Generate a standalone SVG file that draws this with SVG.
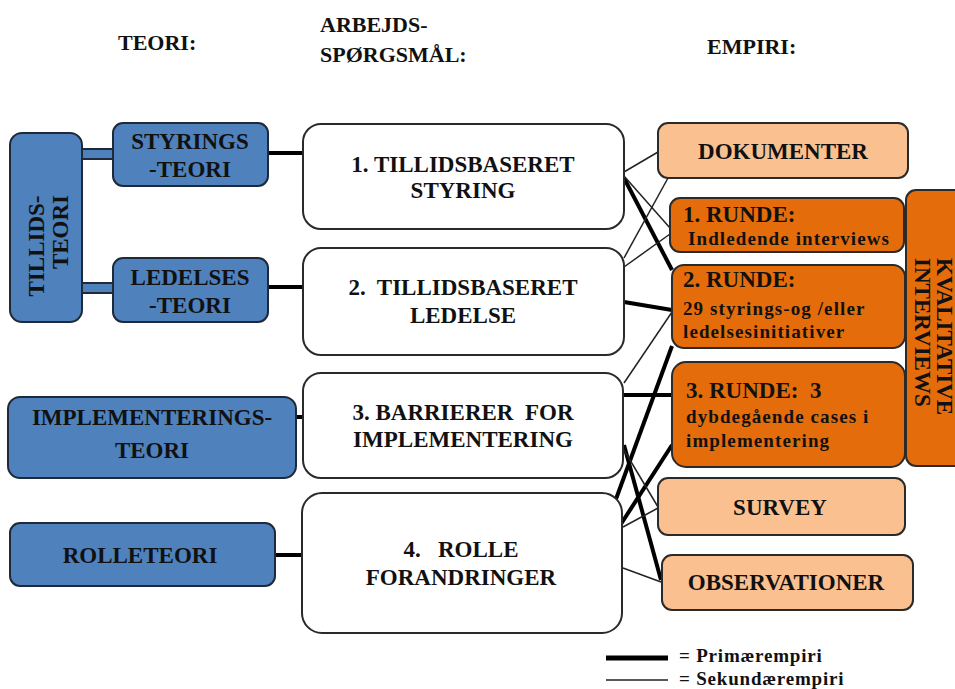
<svg xmlns="http://www.w3.org/2000/svg" width="955" height="689" viewBox="0 0 955 689" font-family="'Liberation Serif', 'DejaVu Serif', 'Times New Roman', serif">
  <style>
    text { font-family: "Liberation Serif", "DejaVu Serif", "Times New Roman", serif; font-weight: 700; fill: #111; }
    .head { font-size: 22px; }
    .lbl { font-size: 23px; }
    .mid { text-anchor: middle; }
    .small { font-size: 19px; letter-spacing: 1.1px; }
    .legend { font-size: 19px; letter-spacing: 0.8px; }
    .theory { fill: #4F81BD; stroke: #1e2a3a; stroke-width: 2; }
    .question { fill: #ffffff; stroke: #2a2a2a; stroke-width: 2; }
    .light { fill: #FAC090; stroke: #2a2a2a; stroke-width: 2; }
    .dark { fill: #E46C0A; stroke: #2a2a2a; stroke-width: 2; }
    .primary { stroke: #000; stroke-width: 4; fill: none; }
    .secondary { stroke: #222; stroke-width: 1.5; fill: none; }
  </style>

  <!-- column headings -->
  <g id="headings">
    <text class="head" x="118" y="50">TEORI:</text>
    <text class="head" x="320" y="32">ARBEJDS-</text>
    <text class="head" x="320" y="62">SPØRGSMÅL:</text>
    <text class="head" x="707" y="54">EMPIRI:</text>
  </g>

  <!-- connectors -->
  <g id="connectors">
    <!-- double-bar links from trust theory -->
    <rect class="theory" x="81" y="149" width="33" height="10" stroke-width="1.5"/>
    <rect class="theory" x="81" y="283" width="33" height="10" stroke-width="1.5"/>

    <!-- theory to questions -->
    <line class="primary" x1="268" y1="153" x2="304" y2="153"/>
    <line class="primary" x1="268" y1="287" x2="304" y2="287"/>
    <line class="primary" x1="296" y1="417" x2="304" y2="417"/>
    <line class="primary" x1="275" y1="555" x2="303" y2="555"/>

    <!-- questions to empirical data: primary -->
    <line class="primary" x1="624" y1="178" x2="672" y2="270"/>
    <line class="primary" x1="624" y1="302" x2="672" y2="310"/>
    <line class="primary" x1="624" y1="395" x2="672" y2="395"/>
    <line class="primary" x1="624" y1="445" x2="661" y2="580"/>
    <line class="primary" x1="616" y1="499" x2="672" y2="346"/>
    <line class="primary" x1="621" y1="524" x2="672" y2="445"/>

    <!-- questions to empirical data: secondary -->
    <line class="secondary" x1="624" y1="172" x2="658" y2="152"/>
    <line class="secondary" x1="624" y1="176" x2="670" y2="228"/>
    <line class="secondary" x1="624" y1="258" x2="668" y2="178"/>
    <line class="secondary" x1="624" y1="267" x2="670" y2="234"/>
    <line class="secondary" x1="624" y1="383" x2="672" y2="312"/>
    <line class="secondary" x1="624" y1="450" x2="658" y2="507"/>
    <line class="secondary" x1="623" y1="527" x2="658" y2="508"/>
    <line class="secondary" x1="623" y1="568" x2="661" y2="582"/>
  </g>

  <!-- theory nodes -->
  <g id="tillidsteori">
    <rect class="theory" x="10" y="133" width="72" height="189" rx="12"/>
    <text class="lbl" font-size="27" text-anchor="middle" transform="translate(44,246) rotate(-90)">TILLIDS-</text>
    <text class="lbl" font-size="27" text-anchor="middle" transform="translate(68,232) rotate(-90)">TEORI</text>
  </g>
  <g id="styringsteori">
    <rect class="theory" x="113" y="123" width="155" height="63" rx="10"/>
    <text class="lbl mid" x="190" y="149">STYRINGS</text>
    <text class="lbl mid" x="190" y="177">-TEORI</text>
  </g>
  <g id="ledelsesteori">
    <rect class="theory" x="113" y="258" width="155" height="64" rx="10"/>
    <text class="lbl mid" x="190" y="285">LEDELSES</text>
    <text class="lbl mid" x="190" y="313">-TEORI</text>
  </g>
  <g id="implementeringsteori">
    <rect class="theory" x="8" y="397" width="288" height="81" rx="12"/>
    <text class="lbl mid" x="152" y="425" font-size="24">IMPLEMENTERINGS-</text>
    <text class="lbl mid" x="152" y="458">TEORI</text>
  </g>
  <g id="rolleteori">
    <rect class="theory" x="10" y="523" width="265" height="63" rx="10"/>
    <text class="lbl mid" x="140" y="563">ROLLETEORI</text>
  </g>

  <!-- research questions -->
  <g id="q1">
    <rect class="question" x="303" y="124" width="321" height="105" rx="18"/>
    <text class="lbl mid" x="463" y="172">1. TILLIDSBASERET</text>
    <text class="lbl mid" x="463" y="198">STYRING</text>
  </g>
  <g id="q2">
    <rect class="question" x="303" y="248" width="321" height="107" rx="18"/>
    <text class="lbl mid" x="463" y="295" xml:space="preserve">2.  TILLIDSBASERET</text>
    <text class="lbl mid" x="463" y="323">LEDELSE</text>
  </g>
  <g id="q3">
    <rect class="question" x="303" y="373" width="320" height="105" rx="18"/>
    <text class="lbl mid" x="463" y="420" xml:space="preserve">3. BARRIERER  FOR</text>
    <text class="lbl mid" x="463" y="447">IMPLEMENTERING</text>
  </g>
  <g id="q4">
    <rect class="question" x="302" y="493" width="320" height="140" rx="20"/>
    <text class="lbl mid" x="461" y="557" xml:space="preserve">4.   ROLLE</text>
    <text class="lbl mid" x="461" y="585">FORANDRINGER</text>
  </g>

  <!-- empirical data -->
  <g id="dokumenter">
    <rect class="light" x="658" y="123" width="250" height="55" rx="10"/>
    <text class="lbl mid" x="783" y="159">DOKUMENTER</text>
  </g>
  <g id="kvalitative-interviews">
    <rect class="dark" x="906" y="190" width="70" height="276" rx="10"/>
    <text class="lbl" font-size="21" transform="translate(937,258) rotate(90)">KVALITATIVE</text>
    <text class="lbl" font-size="21" transform="translate(915,258) rotate(90)">INTERVIEWS</text>
  </g>
  <g id="runde1">
    <rect class="dark" x="670" y="198" width="234" height="54" rx="10"/>
    <text class="lbl" font-size="22" x="683" y="222">1. RUNDE:</text>
    <text class="small" x="688" y="245">Indledende interviews</text>
  </g>
  <g id="runde2">
    <rect class="dark" x="672" y="265" width="233" height="83" rx="12"/>
    <text class="lbl" font-size="22" x="683" y="287">2. RUNDE:</text>
    <text class="small" x="683" y="315">29 styrings-og /eller</text>
    <text class="small" x="683" y="338">ledelsesinitiativer</text>
  </g>
  <g id="runde3">
    <rect class="dark" x="672" y="362" width="233" height="105" rx="14"/>
    <text class="lbl" font-size="22" x="686" y="398" xml:space="preserve">3. RUNDE:  3</text>
    <text class="small" x="686" y="423">dybdegående cases i</text>
    <text class="small" x="686" y="447">implementering</text>
  </g>
  <g id="survey">
    <rect class="light" x="658" y="478" width="247" height="57" rx="10"/>
    <text class="lbl mid" x="780" y="515">SURVEY</text>
  </g>
  <g id="observationer">
    <rect class="light" x="662" y="555" width="251" height="55" rx="10"/>
    <text class="lbl mid" x="786" y="590">OBSERVATIONER</text>
  </g>

  <!-- legend -->
  <g id="legend">
    <line x1="606" y1="658" x2="668" y2="658" stroke="#000" stroke-width="5"/>
    <line x1="606" y1="680" x2="668" y2="680" stroke="#222" stroke-width="1.5"/>
    <text class="legend" x="679" y="662">= Primærempiri</text>
    <text class="legend" x="679" y="685">= Sekundærempiri</text>
  </g>
</svg>
